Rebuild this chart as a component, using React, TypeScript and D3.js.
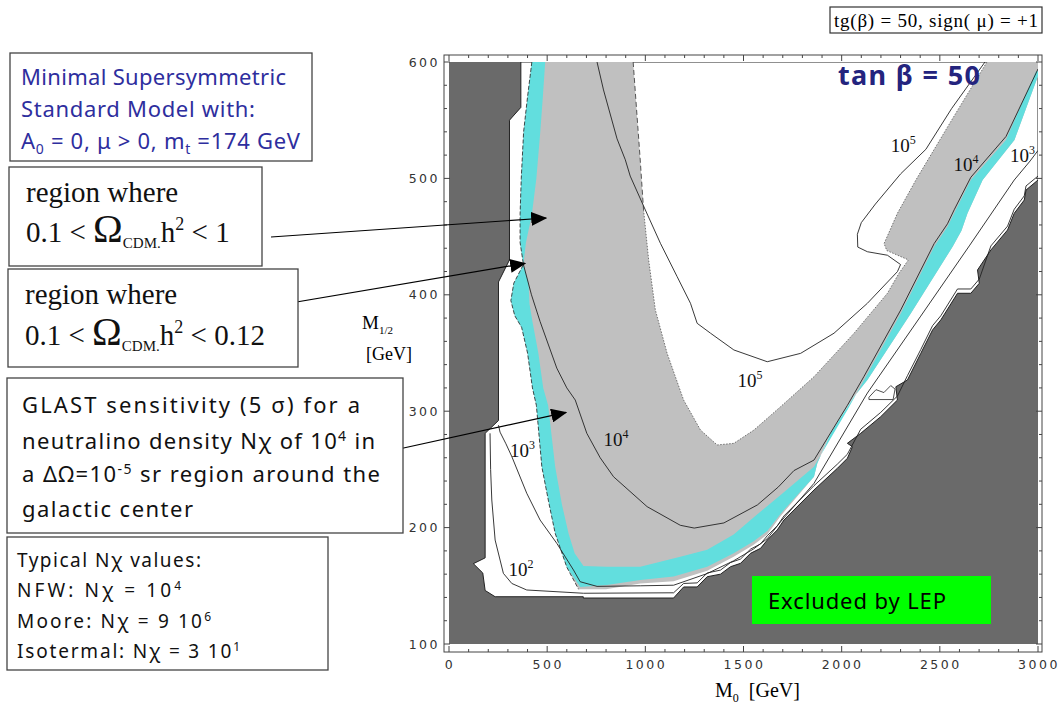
import React from "react";
import * as d3 from "d3";

type Pt = [number, number];

// axis ticks (M0 in GeV, M1/2 in GeV)
const m0Ticks = [0, 500, 1000, 1500, 2000, 2500, 3000];
const m12Ticks = [100, 200, 300, 400, 500, 600];
const m0Minor = d3.range(0, 3001, 100);
const m12Minor = d3.range(100, 601, 20);

// allowed (not excluded) region, white
const allowedRegion: Pt[] = [
  [366, 600], [366, 561], [308, 550], [308, 430], [252, 411], [252, 292], [184, 281],
  [184, 174], [124, 169], [172, 161], [184, 146], [235, 140.6], [684, 140.6], [684, 139.5],
  [1144, 139.5], [1195, 149], [1264, 149], [1315, 157.8], [1383, 160], [1434, 166.4],
  [1485, 169.3], [1536, 177.9], [1587, 182.2], [1621, 189.3], [1672, 198], [1706, 206.5],
  [1859, 232.3], [1978, 250.9], [2029, 259.5], [2055, 269.5], [2029, 272.4], [2097, 281],
  [2199, 295.3], [2284, 309.6], [2276, 321], [2335, 326.8], [2403, 349.7], [2463, 369.8],
  [2505, 378.4], [2590, 401.3], [2658, 401.3], [2701, 409.9], [2692, 421.3], [2760, 438.5],
  [2845, 455.7], [2879, 470], [2930, 481.4], [2939, 490], [3000, 498.6], [3000, 600],
];

const islandOutline: Pt[] = [
  [2139, 312], [2175, 318.5], [2215, 316], [2250, 322], [2272, 319], [2262, 310], [2139, 310],
];

// 0.1 < Omega h^2 < 1, outer edge (left arm, bottom, right arm)
const relicOuter: Pt[] = [
  [422, 600], [400, 570], [380, 540], [368, 500], [362, 469], [362, 445], [379, 426],
  [330, 410], [315, 395], [335, 382], [370, 372], [400, 350], [425, 320], [445, 305],
  [473, 252], [510, 220], [541, 195], [600, 166], [660, 147], [800, 147], [974, 152],
  [1144, 154], [1315, 163], [1450, 175], [1550, 185], [1621, 194], [1689, 210],
  [1780, 228], [1859, 243.7], [1876, 255.2], [1944, 281], [2063, 312.5], [2131, 326.8],
  [2352, 384], [2565, 441.3], [2610, 455], [2641, 470], [2718, 498.6], [2880, 533],
  [3000, 588], [3000, 600],
];

// inner (white) hole of the relic band, from top-left round to top-right
const relicInner: Pt[] = [
  [938, 600], [955, 560], [974, 515.8], [991, 472.9], [1017, 429.9], [1051, 387],
  [1111, 349.7], [1195, 309.6], [1281, 283.8], [1366, 271], [1451, 272.4], [1553, 283.8],
  [1689, 303.9], [1859, 329.6], [2063, 367], [2233, 401.3], [2292, 418.5], [2340, 430],
  [2230, 438], [2216, 444], [2284, 470], [2378, 498.6], [2560, 550], [2740, 600],
];

// 0.1 < Omega h^2 < 0.12 band (cyan)
const wmapOuter: Pt[] = [
  [422, 600], [400, 570], [380, 540], [368, 500], [362, 469], [362, 445], [379, 426],
  [330, 410], [315, 395], [335, 382], [370, 372], [400, 350], [425, 320], [445, 305],
  [473, 252], [510, 220], [541, 195], [600, 166], [668, 149], [804, 150.7], [974, 155],
  [1144, 158], [1315, 166.4], [1450, 178], [1550, 188], [1621, 197], [1689, 212],
  [1780, 229], [1859, 243.7], [1876, 255.2], [1944, 281], [2063, 312.5], [2131, 326.8],
  [2352, 384], [2565, 441.3], [2610, 455], [2641, 470], [2718, 498.6], [2880, 533],
  [3000, 588],
];
const wmapInner: Pt[] = [
  [490, 600], [478, 570], [465, 540], [445, 500], [422, 469], [392, 445], [379, 426],
  [405, 410], [410, 392], [425, 377], [455, 350], [480, 320], [505, 305], [541, 252],
  [575, 220], [609, 195], [640, 178], [685, 167], [804, 166.4], [974, 166.4], [1178, 175],
  [1315, 181], [1450, 194], [1560, 210], [1689, 228], [1859, 252.3], [2029, 301],
  [2114, 326.8], [2301, 384], [2471, 441.3], [2539, 458.5], [2573, 470], [2658, 498.6],
  [2837, 533], [2990, 592], [3000, 592],
];

// N_chi iso-contours
const contour1e2: Pt[] = [
  [209, 281], [212, 250], [218, 223.7], [235, 189.3], [277, 160.7], [320, 152], [396, 146.4],
  [685, 143.6], [1144, 144], [1195, 152], [1264, 152.5], [1315, 161], [1383, 163.5],
  [1434, 170], [1485, 173], [1536, 181.5], [1587, 186], [1621, 193], [1672, 201.5],
  [1706, 210], [1859, 236], [1978, 254.5], [2029, 263], [2097, 284.5], [2199, 299],
  [2284, 313], [2335, 330.5], [2403, 353], [2463, 373.5], [2505, 382], [2590, 405],
  [2658, 405], [2701, 413.5], [2760, 442], [2845, 459], [2879, 473.5], [2930, 485],
  [2939, 493.5], [3000, 502],
];
const contour1e3: Pt[] = [
  [252, 288], [260, 282], [290, 272], [320, 261], [396, 229.5], [464, 206.5], [549, 186.5],
  [634, 163.6], [668, 153.5], [754, 149.5], [974, 150], [1144, 150.5], [1315, 160.5],
  [1450, 171.5], [1550, 181.5], [1621, 190.5], [1689, 205], [1859, 238], [2131, 315.6],
  [2400, 381], [2650, 442], [2879, 498.6], [2960, 515], [3000, 524],
];
const contour1e4: Pt[] = [
  [379, 426], [420, 400], [464, 377], [549, 337], [600, 320], [643, 309.6], [702, 281],
  [770, 260], [838, 243.7], [1009, 218], [1178, 202], [1249, 199.6], [1400, 204],
  [1571, 219.5], [1678, 235], [1757, 249], [1859, 258], [2029, 305], [2114, 330],
  [2301, 387], [2471, 444], [2539, 461], [2573, 473], [2658, 501], [2837, 536], [3000, 594],
];
const contour1e5: Pt[] = [
  [754, 600], [787, 576], [856, 534], [898, 516], [923, 502], [1000, 472.9], [1077, 444.2],
  [1162, 415.6], [1230, 392.7], [1264, 375.5], [1332, 367], [1451, 352.6], [1621, 342.5],
  [1791, 349.7], [1961, 367], [2131, 392.7], [2284, 419.9], [2300, 426], [2233, 434],
  [2131, 437], [2082, 441], [2080, 452], [2100, 462], [2172, 478], [2301, 504],
  [2429, 525], [2560, 560], [2730, 600],
];

// contour labels: [M0, M1/2, exponent]
const contourLabels: [number, number, string][] = [
  [1469, 321, "5"], [2250, 523, "5"], [787, 270, "4"], [2569, 506, "4"],
  [311, 261, "3"], [2858, 514, "3"], [303, 158, "2"],
];

const DARK = "#6a6a6a";
const LIGHT = "#c0c0c0";
const CYAN = "#62dede";
const SERIF = "'Liberation Serif', 'Times New Roman', serif";
const SANS = "'Noto Sans', 'DejaVu Sans', sans-serif";
const PRE = { whiteSpace: "pre" as const };

const x = d3.scaleLinear().domain([0, 3000]).range([449, 1038]);
const y = d3.scaleLinear().domain([100, 600]).range([644, 62]);
const frame = { left: 444, right: 1042, top: 55, bottom: 652 };

const line = d3.line<Pt>().x((d) => x(d[0])).y((d) => y(d[1]));
const poly = (pts: Pt[]) => (line(pts) || "") + "Z";

const relicPath = poly([...relicOuter, ...relicInner.slice().reverse()]);
const wmapPath = poly([...wmapOuter, ...wmapInner.slice().reverse()]);

export default function App() {
  const inkLine = { fill: "none", stroke: "#222", strokeWidth: 0.9 };
  return (
    <svg
      width={1064}
      height={708}
      style={{ position: "absolute", left: 0, top: 0, background: "#fff" }}
    >
      <defs>
        <clipPath id="plotClip">
          <rect x={x(0)} y={y(600)} width={x(3000) - x(0)} height={y(100) - y(600)} />
        </clipPath>
        <marker
          id="head"
          viewBox="0 0 16 14"
          refX={15}
          refY={7}
          markerWidth={16}
          markerHeight={14}
          markerUnits="userSpaceOnUse"
          orient="auto"
        >
          <path d="M0,0 L16,7 L0,14 Z" fill="#000" />
        </marker>
      </defs>

      {/* top-right caption */}
      <rect x={830} y={7} width={212} height={26} fill="none" stroke="#333" strokeWidth={1.2} />
      <text x={834} y={27} fontFamily={SERIF} fontSize={19} textLength={204} lengthAdjust="spacing" style={PRE}>
        tg(β) = 50, sign( μ) = +1
      </text>

      {/* plot regions */}
      <g clipPath="url(#plotClip)">
        <rect x={x(0)} y={y(600)} width={x(3000) - x(0)} height={y(100) - y(600)} fill={DARK} />
        <path d={poly(allowedRegion)} fill="#fff" stroke="#222" strokeWidth={1} />
        <path d={poly(islandOutline)} fill="#fff" stroke="#222" strokeWidth={0.8} />
        <path d={relicPath} fill={LIGHT} />
        <path d={wmapPath} fill={CYAN} />
        <path d={line(relicOuter.slice(0, 19)) || ""} {...inkLine} strokeDasharray="4,2" strokeWidth={0.8} />
        <path d={line(relicInner.slice(0, 4)) || ""} {...inkLine} stroke="#444" strokeDasharray="5,3" />
        <path d={line(relicInner.slice(3)) || ""} {...inkLine} stroke="#555" strokeDasharray="1.5,1.5" strokeWidth={0.8} />
        <path d={line(contour1e2) || ""} {...inkLine} />
        <path d={line(contour1e3) || ""} {...inkLine} />
        <path d={line(contour1e4) || ""} {...inkLine} />
        <path d={line(contour1e5) || ""} {...inkLine} />
        {contourLabels.map(([m0, m12, e], i) => (
          <text key={i} x={x(m0)} y={y(m12)} fontFamily={SERIF} fontSize={19} fill="#111">
            10
            <tspan dy={-8} fontSize={12}>
              {e}
            </tspan>
          </text>
        ))}
      </g>

      {/* frame and ticks */}
      <rect
        x={frame.left}
        y={frame.top}
        width={frame.right - frame.left}
        height={frame.bottom - frame.top}
        fill="none"
        stroke="#444"
        strokeWidth={1}
      />
      {m0Minor.map((v) => {
        const len = v % 500 === 0 ? 6 : 3;
        return (
          <g key={"xt" + v} stroke="#444" strokeWidth={1}>
            <line x1={x(v)} x2={x(v)} y1={frame.bottom} y2={frame.bottom - len} />
            <line x1={x(v)} x2={x(v)} y1={frame.top} y2={frame.top + len} />
          </g>
        );
      })}
      {m12Minor.map((v) => {
        const len = v % 100 === 0 ? 6 : 3;
        return (
          <g key={"yt" + v} stroke="#444" strokeWidth={1}>
            <line x1={frame.left} x2={frame.left + len} y1={y(v)} y2={y(v)} />
            <line x1={frame.right} x2={frame.right - len} y1={y(v)} y2={y(v)} />
          </g>
        );
      })}
      {m0Ticks.map((v) => (
        <text
          key={"xl" + v}
          x={x(v) + 1}
          y={669}
          textAnchor="middle"
          fontFamily="'DejaVu Sans', sans-serif"
          fontSize={12.5}
          letterSpacing={2.5}
          fill="#333"
        >
          {v}
        </text>
      ))}
      {m12Ticks.map((v) => (
        <text
          key={"yl" + v}
          x={440}
          y={y(v) + 4.5}
          textAnchor="end"
          fontFamily="'DejaVu Sans', sans-serif"
          fontSize={12.5}
          letterSpacing={2.5}
          fill="#333"
        >
          {v}
        </text>
      ))}

      {/* axis titles */}
      <text x={362} y={329} fontFamily={SERIF} fontSize={19}>
        M<tspan dy={5} fontSize={11}>1/2</tspan>
      </text>
      <text x={366} y={360} fontFamily={SERIF} fontSize={18}>
        [GeV]
      </text>
      <text x={715} y={697} fontFamily={SERIF} fontSize={20} style={PRE}>
        M<tspan dy={5} fontSize={12}>0</tspan>
        <tspan dy={-5}>{"  [GeV]"}</tspan>
      </text>

      {/* in-plot annotations */}
      <text x={838} y={85} fontFamily={SANS} fontWeight="bold" fontSize={27} fill="#24247e" textLength={142} lengthAdjust="spacing">
        tan β = 50
      </text>
      <rect x={752} y={576} width={239} height={48} fill="#00ff00" />
      <text x={768} y={609} fontFamily={SANS} fontSize={22} fill="#000" textLength={178} lengthAdjust="spacing">
        Excluded by LEP
      </text>

      {/* arrows */}
      <g stroke="#000" strokeWidth={1.2} markerEnd="url(#head)">
        <line x1={271} y1={237} x2={x(495)} y2={y(466)} />
        <line x1={261} y1={308} x2={x(388)} y2={y(427)} />
        <line x1={399} y1={449} x2={x(597)} y2={y(299)} />
      </g>

      {/* model box */}
      <rect x={10} y={53} width={302} height={108} fill="#fff" stroke="#444" strokeWidth={1.3} />
      <g fontFamily={SANS} fontSize={22} fill="#2e2e9e" style={PRE}>
        <text x={21} y={85} textLength={265} lengthAdjust="spacing">Minimal Supersymmetric</text>
        <text x={21} y={117} textLength={234} lengthAdjust="spacing">Standard Model with:</text>
        <text x={21} y={149} textLength={279} lengthAdjust="spacing">
          A<tspan dy={5} fontSize={14}>0</tspan>
          <tspan dy={-5}>{" = 0,  μ > 0, m"}</tspan>
          <tspan dy={5} fontSize={14}>t</tspan>
          <tspan dy={-5}>{" =174 GeV"}</tspan>
        </text>
      </g>

      {/* relic density boxes */}
      <rect x={9} y={167} width={253} height={99} fill="#fff" stroke="#444" strokeWidth={1.3} />
      <g fontFamily={SERIF} fontSize={29} fill="#111" style={PRE}>
        <text x={26} y={202}>region where</text>
        <text x={26} y={242}>
          {"0.1 < "}
          <tspan fontSize={40}>Ω</tspan>
          <tspan fontSize={15} dy={6}>CDM.</tspan>
          <tspan dy={-6}>h</tspan>
          <tspan fontSize={18} dy={-12}>2</tspan>
          <tspan dy={12}>{" < 1"}</tspan>
        </text>
      </g>
      <rect x={8} y={269} width={290} height={98} fill="#fff" stroke="#444" strokeWidth={1.3} />
      <g fontFamily={SERIF} fontSize={29} fill="#111" style={PRE}>
        <text x={25} y={304}>region where</text>
        <text x={25} y={345}>
          {"0.1 < "}
          <tspan fontSize={40}>Ω</tspan>
          <tspan fontSize={15} dy={6}>CDM.</tspan>
          <tspan dy={-6}>h</tspan>
          <tspan fontSize={18} dy={-12}>2</tspan>
          <tspan dy={12}>{" < 0.12"}</tspan>
        </text>
      </g>

      {/* GLAST box */}
      <rect x={7} y={378} width={396} height={155} fill="#fff" stroke="#444" strokeWidth={1.3} />
      <g fontFamily={SANS} fontSize={22} fill="#111" style={PRE}>
        <text x={22} y={413} textLength={338} lengthAdjust="spacing">GLAST sensitivity (5 σ) for a</text>
        <text x={22} y={449} textLength={353} lengthAdjust="spacing">
          {"neutralino density Nχ of 10"}
          <tspan dy={-8} fontSize={14}>4</tspan>
          <tspan dy={8}>{" in"}</tspan>
        </text>
        <text x={22} y={482} textLength={358} lengthAdjust="spacing">
          {"a ΔΩ=10"}
          <tspan dy={-8} fontSize={14}>-5</tspan>
          <tspan dy={8}>{" sr  region around the"}</tspan>
        </text>
        <text x={22} y={517} textLength={171} lengthAdjust="spacing">galactic center</text>
      </g>

      {/* typical values box */}
      <rect x={7} y={537} width={321} height={133} fill="#fff" stroke="#444" strokeWidth={1.3} />
      <g fontFamily={SANS} fontSize={19} fill="#111" style={PRE}>
        <text x={17} y={567} textLength={184} lengthAdjust="spacing">Typical Nχ  values:</text>
        <text x={17} y={597} textLength={164} lengthAdjust="spacing">
          {"NFW:  Nχ =  10"}
          <tspan dy={-7} fontSize={12}>4</tspan>
        </text>
        <text x={17} y={628} textLength={194} lengthAdjust="spacing">
          {"Moore:  Nχ =  9 10"}
          <tspan dy={-7} fontSize={12}>6</tspan>
        </text>
        <text x={17} y={658} textLength={223} lengthAdjust="spacing">
          {"Isotermal:  Nχ = 3 10"}
          <tspan dy={-7} fontSize={12}>1</tspan>
        </text>
      </g>
    </svg>
  );
}
